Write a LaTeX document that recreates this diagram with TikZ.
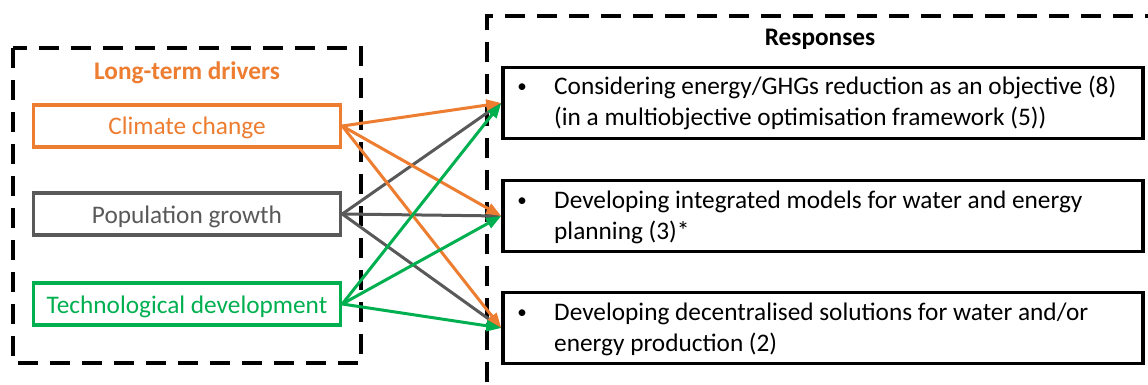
\documentclass[tikz,border=0pt]{standalone}
\usepackage{fontspec}
\setmainfont{Carlito}
\usetikzlibrary{arrows.meta}
\definecolor{orng}{RGB}{237,125,49}
\definecolor{gry}{RGB}{89,89,89}
\definecolor{grn}{RGB}{0,176,80}
\tikzset{
  dashbox/.style={draw=black, line width=4pt, dash pattern=on 20pt off 12pt},
  driver/.style={draw=#1, text=#1, line width=3.5pt, minimum width=307pt, minimum height=42pt, inner sep=0pt, text height=18pt, text depth=0pt, font=\fontsize{25.3}{30}\selectfont},
  rbox/.style={draw=black, line width=3.5pt, minimum width=640pt, minimum height=71pt, inner sep=0pt},
  rtext/.style={anchor=base west, inner sep=0pt, font=\fontsize{25.3}{31}\selectfont},
  bul/.style={anchor=base, inner sep=0pt, font=\fontsize{19}{31}\selectfont},
  conn/.style={draw=#1, line width=3pt, -{Triangle[length=15pt,width=11pt]}},
  title/.style={anchor=base, font=\bfseries\fontsize{25.3}{30}\selectfont}
}
\begin{document}
\begin{tikzpicture}[x=1pt,y=-1pt]
\useasboundingbox (0,0) rectangle (1148,385);
\fill[white] (0,0) rectangle (1148,385);
% dashed group frames
\draw[dashbox] (13,48) rectangle (361,363);
\draw[dashbox] (487,382) -- (487,16) -- (1160,16);
\node[title, text=orng] (tl) at (187,80) {Long-term drivers};
\node[title] (tr) at (820,46) {Responses};
% drivers
\node[driver=orng] (cc) at (187,126) {Climate change};
\node[driver=gry] (pg) at (187,214) {Population growth};
\node[driver=grn] (td) at (187,304) {Technological development};
% responses
\node[rbox] (r1) at (823,103) {};
\node[rbox] (r2) at (823,216) {};
\node[rbox] (r3) at (823,328) {};
\node[bul] (b1) at (522,93) {•};
\node[bul] (b2) at (522,206) {•};
\node[bul] (b3) at (522,318) {•};
\node[rtext] (t1a) at (554,95) {Considering energy/GHGs reduction as an objective (8)};
\node[rtext] (t1b) at (554,126) {(in a multiobjective optimisation framework (5))};
\node[rtext] (t2a) at (554,208) {Developing integrated models for water and energy};
\node[rtext] (t2b) at (554,239) {planning (3)*};
\node[rtext] (t3a) at (554,320) {Developing decentralised solutions for water and/or};
\node[rtext] (t3b) at (554,351) {energy production (2)};
% connectors
\draw[conn=gry] (pg.east) -- (r1.west);
\draw[conn=gry] (pg.east) -- (r2.west);
\draw[conn=gry] (pg.east) -- (r3.west);
\draw[conn=orng] (cc.east) -- (r1.west);
\draw[conn=orng] (cc.east) -- (r2.west);
\draw[conn=orng] (cc.east) -- (r3.west);
\draw[conn=grn] (td.east) -- (r1.west);
\draw[conn=grn] (td.east) -- (r2.west);
\draw[conn=grn] (td.east) -- (r3.west);
\end{tikzpicture}
\end{document}
